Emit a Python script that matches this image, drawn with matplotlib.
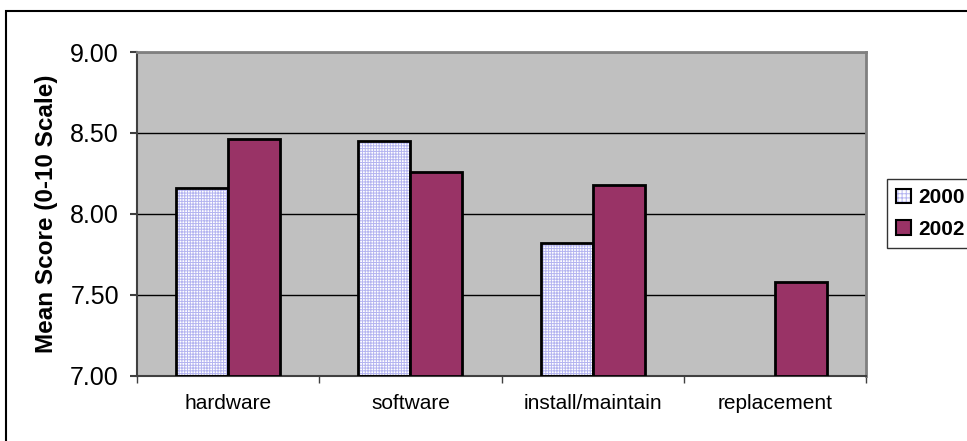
import numpy as np
import matplotlib
matplotlib.use("Agg")
import matplotlib.pyplot as plt
from matplotlib.patches import Patch, Rectangle
from matplotlib.legend_handler import HandlerTuple

categories = ["hardware", "software", "install/maintain", "replacement"]
scores_2000 = [8.16, 8.45, 7.82, np.nan]
scores_2002 = [8.46, 8.26, 8.18, 7.58]
years = ["2000", "2002"]
yticks = [7.00, 7.50, 8.00, 8.50, 9.00]

plt.rcParams["font.family"] = ["Liberation Sans", "DejaVu Sans"]
plt.rcParams["hatch.linewidth"] = 0.7

W, H = 967, 441
fig = plt.figure(figsize=(W / 100, H / 100), dpi=100)
ax = fig.add_axes([137 / W, (H - 375.5) / H, (866 - 137) / W, (375.5 - 52) / H])
ax.set_facecolor("#C0C0C0")

x = np.arange(len(categories))
bw = 1 / 3.5  # gap width 150%
plum = "#993366"
grid_lav = "#B4B4F0"

# 2000: dotted lavender fill, then black outline on top
ax.bar(x - bw / 2, np.array(scores_2000) - 7, bw, bottom=7, color="white",
       edgecolor=grid_lav, hatch="++++++", linewidth=0, zorder=2)
ax.bar(x - bw / 2, np.array(scores_2000) - 7, bw, bottom=7, facecolor="none",
       edgecolor="black", linewidth=2, zorder=3)
ax.bar(x + bw / 2, np.array(scores_2002) - 7, bw, bottom=7, color=plum,
       edgecolor="black", linewidth=2, zorder=3)

ax.set_xlim(-0.5, len(categories) - 0.5)
ax.set_ylim(7, 9)
ax.set_yticks(yticks)
ax.set_yticklabels([f"{v:.2f}" for v in yticks], fontsize=18)
ax.yaxis.grid(True, color="black", linewidth=1)
ax.set_axisbelow(True)

# category boundaries get the tick marks, labels sit at the centers
ax.set_xticks(np.arange(-0.5, len(categories), 1.0))
ax.set_xticklabels([])
ax.set_xticks(x, minor=True)
ax.set_xticklabels(categories, minor=True, fontsize=15)
ax.tick_params(axis="x", which="major", length=5, width=1, color="#404040", direction="out")
ax.tick_params(axis="x", which="minor", length=0, pad=13)
ax.tick_params(axis="y", length=5, width=1.5, color="#404040", pad=8)

for side in ("left", "bottom"):
    ax.spines[side].set_color("#404040")
    ax.spines[side].set_linewidth(1.5)
for side in ("top", "right"):
    ax.spines[side].set_color("#808080")
    ax.spines[side].set_linewidth(2)

ax.set_ylabel("Mean Score (0-10 Scale)", fontsize=17.5, fontweight="bold", labelpad=9)

handles = [
    (Patch(facecolor="white", edgecolor=grid_lav, hatch="++++", linewidth=0),
     Patch(facecolor="none", edgecolor="black", linewidth=1.5)),
    Patch(facecolor=plum, edgecolor="black", linewidth=1.5),
]
leg = fig.legend(handles=handles, labels=years, loc="upper left",
                 handler_map={tuple: HandlerTuple(ndivide=1, pad=0)},
                 bbox_to_anchor=(887 / W, (H - 179) / H),
                 prop={"size": 15, "weight": "bold"}, frameon=True, fancybox=False,
                 handlelength=0.7, handleheight=0.7, handletextpad=0.35,
                 labelspacing=0.6, borderpad=0.45, borderaxespad=0)
leg.get_frame().set_edgecolor("black")
leg.get_frame().set_linewidth(1)

# chart area border
fig.add_artist(Rectangle((6 / W, -0.2), 1.5, (H - 11) / H + 0.2,
                         transform=fig.transFigure, facecolor="none",
                         edgecolor="black", linewidth=1.5, clip_on=False))

fig.savefig("out.png", dpi=100)
